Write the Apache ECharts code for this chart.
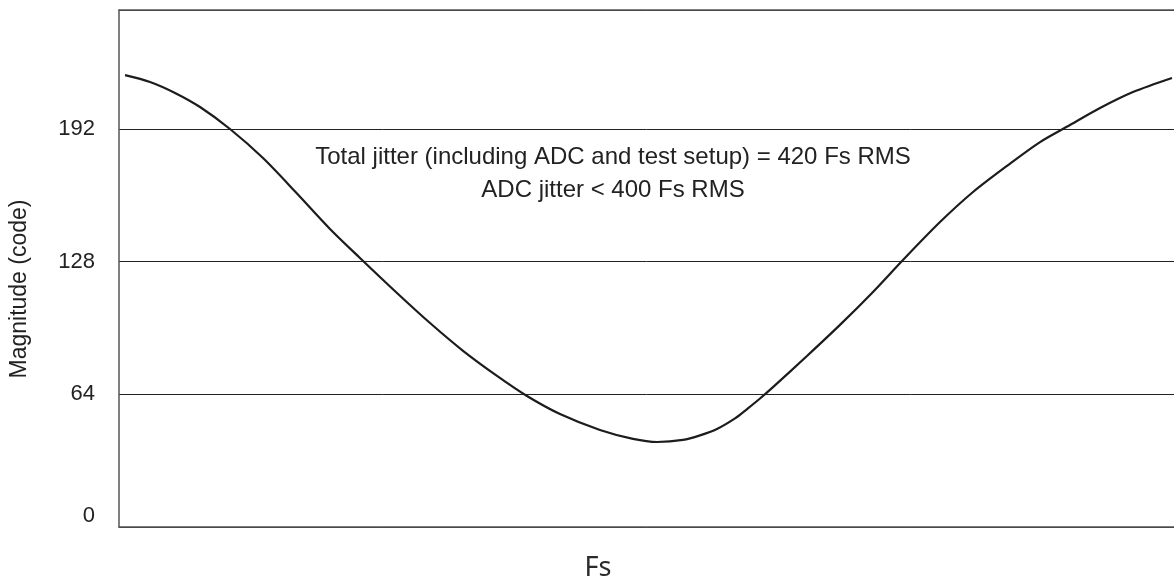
<!DOCTYPE html>
<html>
<head>
<meta charset="utf-8">
<script src="https://cdn.jsdelivr.net/npm/echarts@6/dist/echarts.min.js"></script>
<style>
  html, body { margin: 0; padding: 0; background: #ffffff; }
  #chart { width: 1174px; height: 583px; }
</style>
</head>
<body>
<div id="chart"></div>
<script>
// Sampled phase of the sine test tone across one sample period (0..1000)
const samplePhase = [5.7, 29.4, 53.1, 76.8, 105.2, 136.5, 168.7, 200.0, 228.4, 263.5,
  294.8, 326.1, 358.3, 386.7, 418.0, 455.9, 487.2, 510.0, 534.6, 550.7, 566.8,
  583.9, 595.3, 607.6, 619.9, 652.1, 683.4, 714.7, 743.1, 778.2, 809.5, 841.7,
  873.0, 901.4, 929.9, 961.1, 998.1];
// ADC output magnitude in codes at each phase
const magnitudeCode = [218.0, 214.7, 209.4, 202.6, 192.0, 178.0, 160.9, 143.8, 129.8, 112.9,
  98.4, 85.0, 72.9, 63.2, 54.5, 46.8, 42.5, 41.0, 42.0, 44.2, 47.3,
  52.4, 56.9, 62.0, 67.5, 82.5, 97.5, 113.4, 128.8, 147.1, 161.6, 174.2,
  185.7, 193.9, 202.1, 209.8, 216.6];
const yTicks = [0, 64, 128, 192];
const noteLines = [
  'Total jitter (including ADC and test setup) = 420 Fs RMS',
  'ADC jitter < 400 Fs RMS'
];
const xTitle = 'Fs';
const yTitle = 'Magnitude (code)';

const ink = '#222222';
const frame = { color: '#555555', width: 1.5 };
const chart = echarts.init(document.getElementById('chart'), null, { renderer: 'canvas' });

const hiddenX = {
  type: 'value', min: 0, max: 1000,
  axisTick: { show: false }, axisLabel: { show: false }, splitLine: { show: false }
};

chart.setOption({
  backgroundColor: '#ffffff',
  animation: false,
  grid: { left: 119, top: 10, right: 0, bottom: 56 },
  xAxis: [
    Object.assign({ position: 'bottom', axisLine: { show: true, lineStyle: frame } }, hiddenX),
    Object.assign({ position: 'top', axisLine: { show: true, lineStyle: frame } }, hiddenX)
  ],
  yAxis: {
    type: 'value', min: 0, max: 249.4, interval: 64,
    axisLine: { show: true, lineStyle: frame }, axisTick: { show: false },
    splitLine: {
      show: true,
      lineStyle: { color: ink, width: 1 }
    },
    axisLabel: {
      margin: 24,
      fontFamily: 'Liberation Sans, Arial, sans-serif',
      fontSize: 22,
      color: ink,
      formatter: function (v) {
        if (yTicks.indexOf(v) < 0) return '';
        return v === 0 ? '{z|0}' : String(v);
      },
      rich: {
        z: { fontFamily: 'Liberation Sans, Arial, sans-serif', fontSize: 22, color: ink, padding: [0, 0, 22, 0] }
      }
    }
  },
  series: [{
    type: 'line',
    xAxisIndex: 0,
    data: samplePhase.map((p, i) => [p, magnitudeCode[i]]),
    showSymbol: false,
    smooth: 0.3,
    lineStyle: { color: '#1c1c1c', width: 2.2 },
    z: 5
  }],
  graphic: [
    {
      type: 'text', x: 613, y: 141,
      style: {
        text: noteLines.join('\n'),
        fontFamily: 'Liberation Sans, Arial, sans-serif',
        fontSize: 24, lineHeight: 33,
        fill: ink, align: 'center', verticalAlign: 'top'
      }
    },
    {
      type: 'text', x: 598, y: 568,
      style: {
        text: xTitle,
        fontFamily: 'Noto Sans, Open Sans, sans-serif',
        fontSize: 27, fill: '#2a2a2a', align: 'center', verticalAlign: 'middle'
      }
    },
    {
      type: 'text', x: 20, y: 289, rotation: Math.PI / 2,
      style: {
        text: yTitle,
        fontFamily: 'Liberation Sans, Arial, sans-serif',
        fontSize: 23, fill: ink, align: 'center', verticalAlign: 'middle'
      }
    }
  ]
});
</script>
</body>
</html>
